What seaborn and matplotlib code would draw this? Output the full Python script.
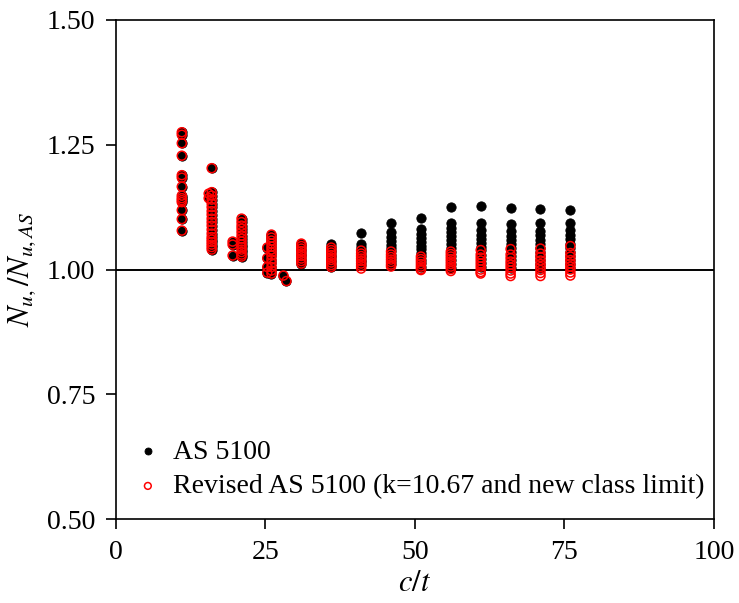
import pandas as pd
import matplotlib
matplotlib.use("Agg")
import matplotlib.pyplot as plt
import seaborn as sns

# c/t positions and N_u / N_u,AS values
shared_ct = [11, 15.5, 16, 19.5, 21, 25.3, 26, 28, 28.5, 31]
shared_vals = [
    [1.275, 1.270, 1.253, 1.228, 1.189, 1.184, 1.166, 1.148, 1.143, 1.139,
     1.135, 1.119, 1.101, 1.078],
    [1.152, 1.143],
    [1.203, 1.155, 1.148, 1.140, 1.132, 1.125, 1.117, 1.110, 1.102, 1.095,
     1.088, 1.080, 1.072, 1.065, 1.060, 1.055, 1.050, 1.045, 1.040],
    [1.056, 1.050, 1.028],
    [1.102, 1.095, 1.088, 1.082, 1.075, 1.068, 1.062, 1.056, 1.050, 1.045,
     1.040, 1.035, 1.030, 1.026],
    [1.044, 1.023, 1.005, 0.994],
    [1.070, 1.064, 1.058, 1.052, 1.046, 1.040, 1.034, 1.028, 1.020, 1.013,
     1.005, 0.998, 0.992],
    [0.988],
    [0.977],
    [1.052, 1.047, 1.042, 1.037, 1.032, 1.027, 1.022, 1.017, 1.012],
]

high_ct = [36, 41, 46, 51, 56, 61, 66, 71, 76]
as5100_vals = [
    [1.051, 1.045, 1.040, 1.035, 1.030, 1.025, 1.020, 1.015, 1.010, 1.006],
    [1.073, 1.052, 1.045, 1.040, 1.035, 1.030, 1.025, 1.020, 1.015, 1.010],
    [1.093, 1.076, 1.066, 1.058, 1.050, 1.043, 1.037, 1.030, 1.024, 1.018, 1.012],
    [1.104, 1.081, 1.071, 1.063, 1.055, 1.048, 1.041, 1.034, 1.027, 1.020,
     1.013, 1.006],
    [1.125, 1.093, 1.083, 1.075, 1.067, 1.059, 1.051, 1.043, 1.036, 1.028,
     1.020, 1.012, 1.004],
    [1.127, 1.093, 1.079, 1.070, 1.062, 1.054, 1.046, 1.039, 1.030, 1.022,
     1.014, 1.006],
    [1.124, 1.091, 1.077, 1.068, 1.060, 1.052, 1.044, 1.036, 1.028, 1.020,
     1.012, 1.004],
    [1.121, 1.093, 1.078, 1.069, 1.060, 1.052, 1.044, 1.036, 1.028, 1.020,
     1.012, 1.004],
    [1.119, 1.094, 1.080, 1.070, 1.061, 1.052, 1.044, 1.036, 1.028, 1.020,
     1.012, 1.004],
]
revised_vals = [
    [1.044, 1.039, 1.034, 1.029, 1.024, 1.019, 1.014, 1.009, 1.005],
    [1.038, 1.032, 1.027, 1.022, 1.017, 1.012, 1.007, 1.002],
    [1.036, 1.030, 1.025, 1.020, 1.015, 1.010, 1.006],
    [1.026, 1.021, 1.016, 1.011, 1.006, 1.001, 0.999],
    [1.036, 1.031, 1.026, 1.021, 1.016, 1.011, 1.006, 1.001, 0.997],
    [1.039, 1.030, 1.024, 1.018, 1.012, 1.006, 1.000, 0.995, 0.992],
    [1.041, 1.030, 1.023, 1.016, 1.010, 1.004, 0.998, 0.992, 0.987],
    [1.042, 1.032, 1.025, 1.018, 1.011, 1.005, 0.999, 0.993, 0.987],
    [1.047, 1.033, 1.026, 1.019, 1.012, 1.006, 1.000, 0.994, 0.988],
]

labels = ["AS 5100", "Revised AS 5100 (k=10.67 and new class limit)"]


def to_frame(cts, vals):
    rows = [(c, v) for c, vs in zip(cts, vals) for v in vs]
    return pd.DataFrame(rows, columns=["ct", "ratio"])


as5100 = pd.concat([to_frame(shared_ct, shared_vals), to_frame(high_ct, as5100_vals)])
revised = pd.concat([to_frame(shared_ct, shared_vals), to_frame(high_ct, revised_vals)])

sns.set_style("ticks")
plt.rcParams["font.family"] = ["Liberation Serif", "DejaVu Serif"]
plt.rcParams["mathtext.fontset"] = "stix"
plt.rcParams["font.size"] = 20
plt.rcParams["text.color"] = "black"
plt.rcParams["axes.labelcolor"] = "black"

fig, ax = plt.subplots(figsize=(7.39, 6.03), dpi=100)

sns.scatterplot(ax=ax, data=as5100, x="ct", y="ratio", s=45,
                color="black", edgecolor="black", linewidth=0.6,
                label=labels[0], zorder=3)
sns.scatterplot(ax=ax, data=revised, x="ct", y="ratio", s=42,
                label=labels[1], zorder=4)
pc = ax.collections[-1]
pc.set_facecolor("none")
pc.set_edgecolor("red")
pc.set_linewidth(1.1)

ax.axhline(1.0, color="black", linewidth=1.4, zorder=2)

ax.set_xlim(0, 100)
ax.set_ylim(0.5, 1.5)
ax.set_xticks([0, 25, 50, 75, 100])
ax.set_yticks([0.5, 0.75, 1.0, 1.25, 1.5])
ax.set_yticklabels(["0.50", "0.75", "1.00", "1.25", "1.50"])
ax.tick_params(direction="out", length=7, width=1.2, colors="black",
               labelsize=20, pad=8)
for sp in ax.spines.values():
    sp.set_visible(True)
    sp.set_color("black")
    sp.set_linewidth(1.2)

ax.set_xlabel("$c/t$", fontsize=22, labelpad=3)
ax.set_ylabel("$N_{u,}/N_{u,AS}$", fontsize=22, labelpad=6)

leg = ax.legend(loc="lower left", bbox_to_anchor=(0.03, 0.04), frameon=False,
                fontsize=20, handletextpad=0.4, labelspacing=0.33,
                markerscale=0.75, handlelength=1.0, borderaxespad=0.0,
                borderpad=0.0)
for h in leg.legend_handles[1:]:
    h.set_facecolor("none")
    h.set_edgecolor("red")

fig.subplots_adjust(left=0.157, right=0.966, top=0.967, bottom=0.139)
fig.savefig("out.png", dpi=100)
